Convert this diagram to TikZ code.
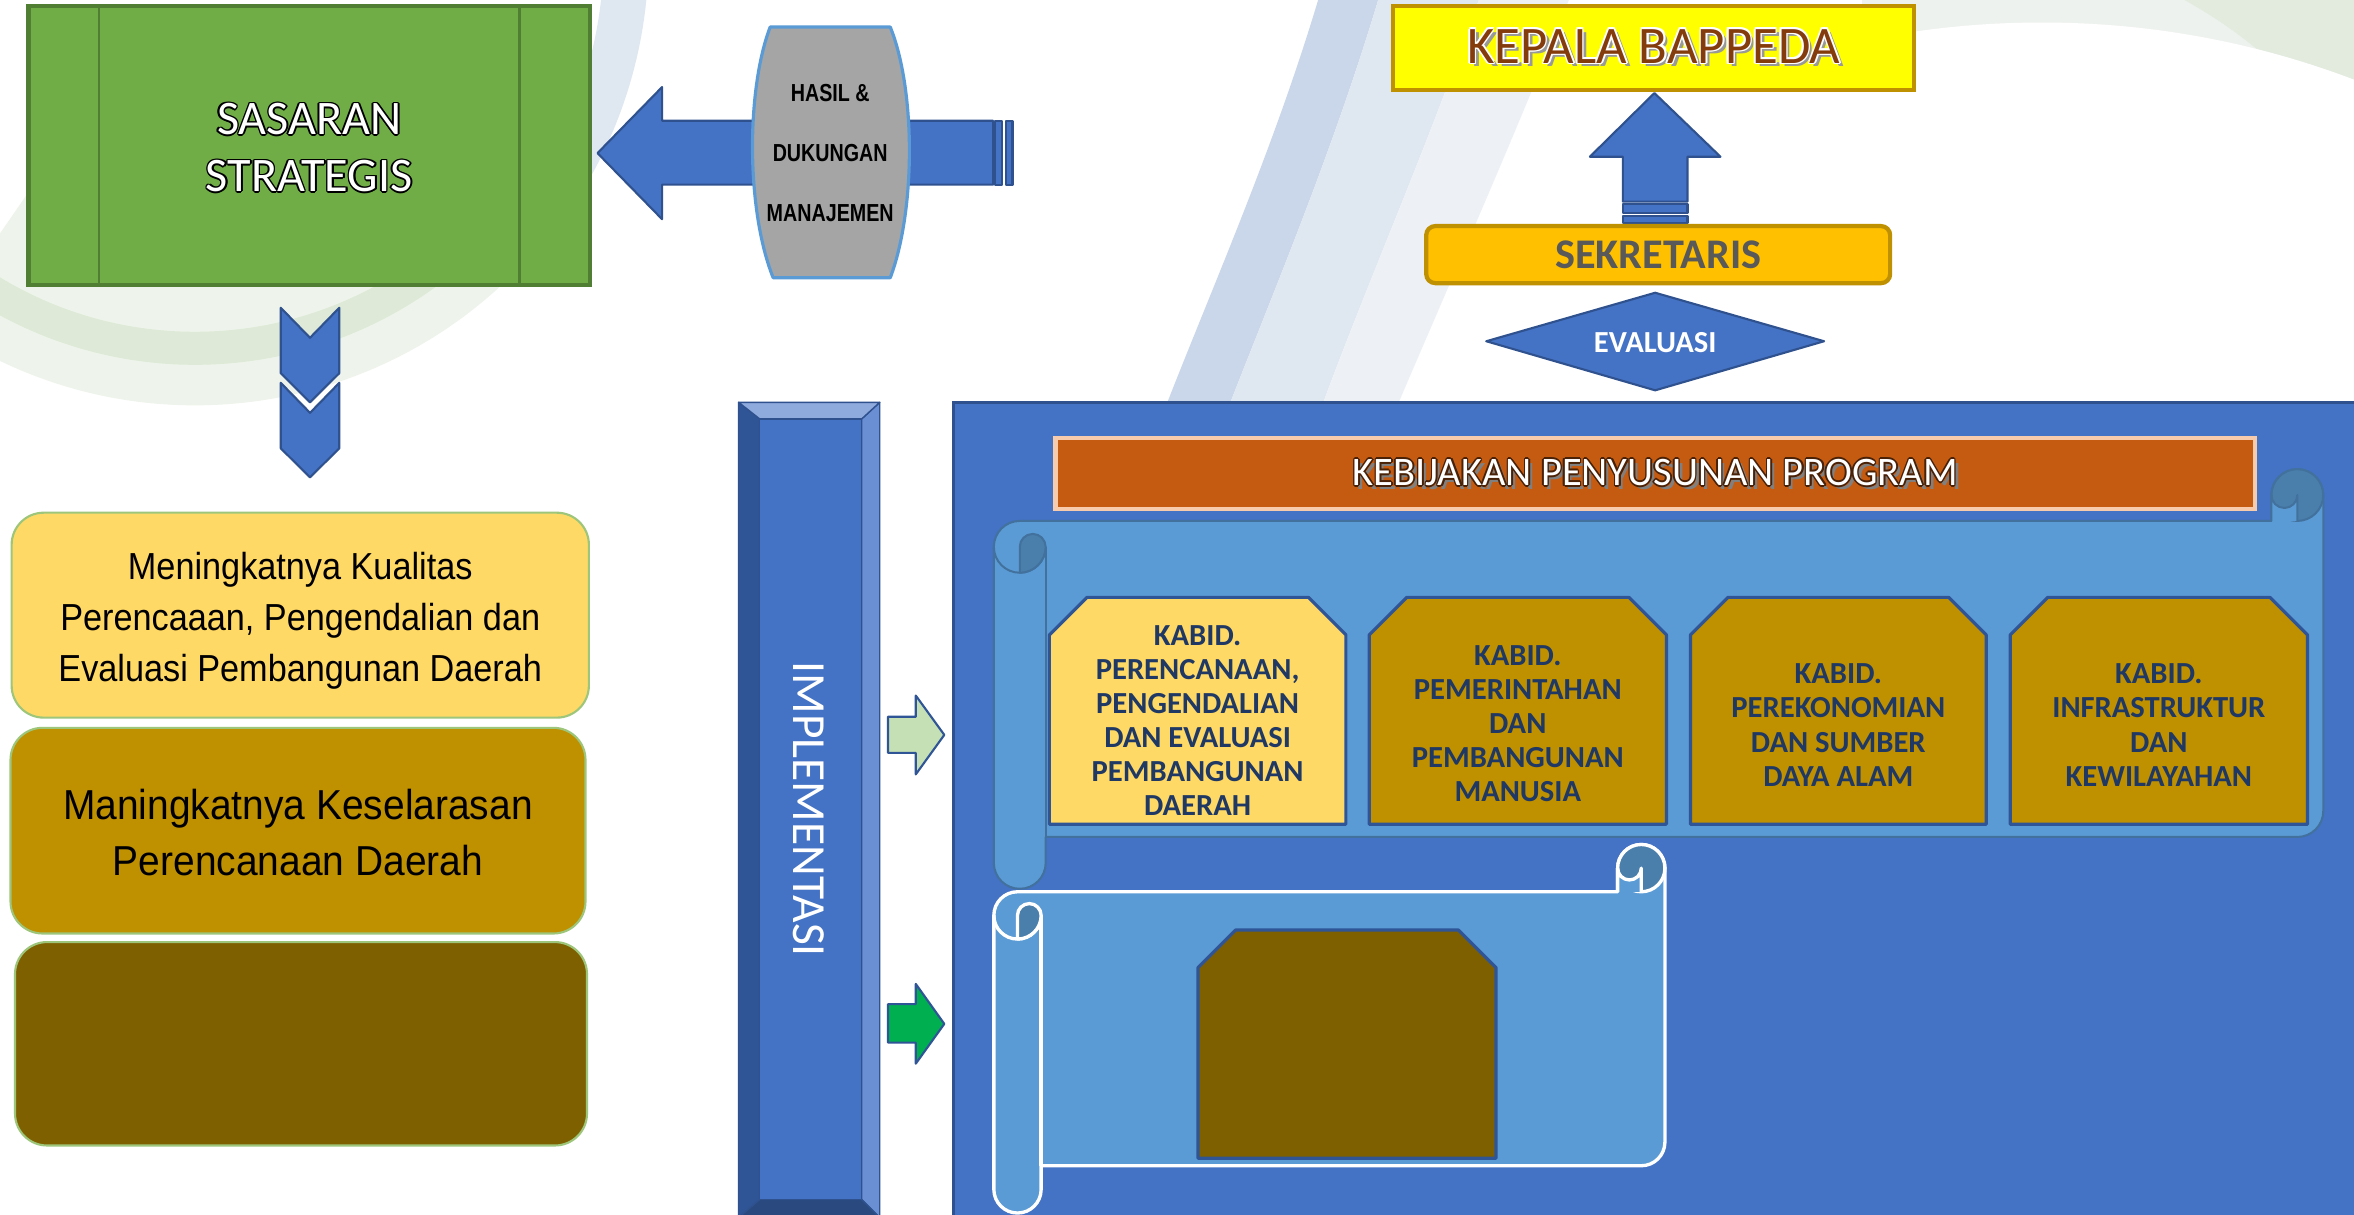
\documentclass[tikz,border=0pt]{standalone}
\usepackage{fontspec}
\setmainfont{Carlito}
\newfontfamily\boxA[FakeStretch=0.91]{Liberation Sans}
\newfontfamily\boxB[FakeStretch=0.93]{Liberation Sans}
\newfontfamily\hasilF[FakeStretch=0.8]{Liberation Sans}
\usetikzlibrary{shapes.geometric}

\definecolor{grn}{HTML}{70AD47}
\definecolor{grnd}{HTML}{507E32}
\definecolor{blu}{HTML}{4472C4}
\definecolor{blud}{HTML}{2F528F}
\definecolor{sheet}{HTML}{5B9BD5}
\definecolor{sheetd}{HTML}{41719C}
\definecolor{curl}{HTML}{4A7EAB}
\definecolor{ylw}{HTML}{FFD966}
\definecolor{gold}{HTML}{BF9000}
\definecolor{olive}{HTML}{7F6000}
\definecolor{navy}{HTML}{1F3864}
\definecolor{orng}{HTML}{C55A11}
\definecolor{peach}{HTML}{F8CBAD}
\definecolor{amber}{HTML}{FFC000}
\definecolor{brwn}{HTML}{843C0C}
\definecolor{gry}{HTML}{A5A5A5}
\definecolor{dgray}{HTML}{595959}
\definecolor{lgreen}{HTML}{C5E0B4}
\definecolor{vgreen}{HTML}{00B050}
\definecolor{yel}{HTML}{FFFF00}
\definecolor{bevtop}{HTML}{8FAADC}
\definecolor{bevleft}{HTML}{2F5597}
\definecolor{bevright}{HTML}{6A8FD3}
\definecolor{bevbot}{HTML}{29497F}
\definecolor{lbord}{HTML}{9DC67A}
\definecolor{swGa}{HTML}{EEF4EB}
\definecolor{swGb}{HTML}{DEEAD7}
\definecolor{swBa}{HTML}{CAD7EA}
\definecolor{swBb}{HTML}{DFE7F1}
\definecolor{swBc}{HTML}{EDF1F6}
\definecolor{swTa}{HTML}{EEF2EE}
\definecolor{swTb}{HTML}{E2EBDE}

\def\U{0.015cm}
\newlength\olw
\newcommand\outl[3]{{\setlength\olw{0.45pt}\setbox0=\hbox{#3}%
\rlap{\color{#1}\kern\olw\copy0}\rlap{\color{#1}\kern-\olw\copy0}%
\rlap{\color{#1}\raise\olw\copy0}\rlap{\color{#1}\lower\olw\copy0}%
\rlap{\color{#1}\kern.7\olw\raise.7\olw\copy0}\rlap{\color{#1}\kern-.7\olw\raise.7\olw\copy0}%
\rlap{\color{#1}\kern.7\olw\lower.7\olw\copy0}\rlap{\color{#1}\kern-.7\olw\lower.7\olw\copy0}%
{\color{#2}\copy0}}}
\newcommand\outls[4]{{\setlength\olw{0.45pt}\setbox0=\hbox{#4}%
\rlap{\color{#3}\kern1.1pt\lower1.1pt\copy0}%
\rlap{\color{#1}\kern\olw\copy0}\rlap{\color{#1}\kern-\olw\copy0}%
\rlap{\color{#1}\raise\olw\copy0}\rlap{\color{#1}\lower\olw\copy0}%
\rlap{\color{#1}\kern.7\olw\raise.7\olw\copy0}\rlap{\color{#1}\kern-.7\olw\raise.7\olw\copy0}%
\rlap{\color{#1}\kern.7\olw\lower.7\olw\copy0}\rlap{\color{#1}\kern-.7\olw\lower.7\olw\copy0}%
{\color{#2}\copy0}}}

\newcommand\card[5]{\filldraw[cardshape, fill=#5] (#1,#4) -- (#1,{#2+25}) -- ({#1+25},#2) -- ({#3-25},#2) -- (#3,{#2+25}) -- (#3,#4) -- cycle;}

\newcommand\hscroll[7]{%
\pgfmathsetmacro\sL{#1}\pgfmathsetmacro\sT{#2}\pgfmathsetmacro\sR{#3}%
\pgfmathsetmacro\sB{#4}\pgfmathsetmacro\sC{#5}%
\pgfmathsetmacro\sH{\sC/2}\pgfmathsetmacro\sQ{\sC/4}%
\pgfmathsetmacro\sYb{\sT+\sC}\pgfmathsetmacro\sYc{\sT+1.5*\sC}\pgfmathsetmacro\sYB{\sB-\sC}%
\begin{scope}[draw=#6, line width=#7, line join=round]
\filldraw[fill=sheet] ({\sL+\sH},\sYb) -- ({\sR-\sC},\sYb) -- ({\sR-\sC},{\sT+\sH}) arc[start angle=180,end angle=360,radius=\sH] -- (\sR,{\sYB-\sH}) arc[start angle=0,end angle=90,radius=\sH] -- ({\sL+\sC},\sYB) -- ({\sL+\sC},{\sB-\sH}) arc[start angle=0,end angle=180,radius=\sH] -- (\sL,\sYc) arc[start angle=180,end angle=270,radius=\sH] -- cycle;
\draw ({\sL+\sC},\sYc) -- ({\sL+\sC},\sYB);
\draw (\sL,\sYc) arc[start angle=180,end angle=0,radius=\sH];
\filldraw[fill=curl] ({\sL+\sH},{\sYc+\sH}) -- ({\sL+\sH},\sYc) arc[start angle=180,end angle=360,radius=\sQ] arc[start angle=0,end angle=90,radius=\sH] -- cycle;
\filldraw[fill=curl] ({\sR-\sH},{\sT+\sH}) circle[radius=\sH];
\fill[sheet] ({\sR-\sC},{\sT+\sH}) arc[start angle=180,end angle=0,radius=\sQ] -- ({\sR-\sH},\sYb) -- ({\sR-\sC},\sYb) -- cycle;
\draw ({\sR-\sC},\sYb) -- ({\sR-\sC},{\sT+\sH}) arc[start angle=180,end angle=0,radius=\sQ] -- ({\sR-\sH},\sYb);
\end{scope}}

\tikzset{
  arrowshape/.style={fill=blu, draw=blud, line width=0.6pt, line join=round},
  lbox/.style={rounded corners=0.32cm, line width=0.6pt, draw=lbord},
  cardtxt/.style={font=\bfseries\fontsize{8.7}{9.7}\selectfont, text=navy, align=center},
  cardshape/.style={draw=bevleft, line width=0.9pt, line join=round},
  bevel/.style={draw=blud, line width=0.4pt, line join=round},
}

\begin{document}
\begin{tikzpicture}[x=0.015cm,y=-0.015cm, every node/.style={inner sep=0pt, outer sep=0pt}]
\useasboundingbox (0,0) rectangle (1568,809);
\clip (0,0) rectangle (1568,809);
\fill[white] (0,0) rectangle (1568,809);

% ---------- background swooshes ----------
\draw[line width={110*\U}, swGa] (130,-30) ++(125:245) arc[start angle=125,end angle=40,radius=245];
\draw[line width={22*\U}, swGb] (130,-30) ++(125:262) arc[start angle=125,end angle=40,radius=262];
\draw[line width={30*\U}, swBb] (130,-30) ++(45:287) arc[start angle=45,end angle=-10,radius=287];
\fill[swBa] (878,0) .. controls (848,100) and (808,190) .. (776,272) -- (818,272) .. controls (850,190) and (888,100) .. (918,0) -- cycle;
\fill[swBb] (918,0) .. controls (888,100) and (850,190) .. (818,272) -- (880,272) .. controls (910,190) and (950,100) .. (985,0) -- cycle;
\fill[swBc] (985,0) .. controls (950,100) and (910,190) .. (880,272) -- (930,272) .. controls (965,190) and (1005,100) .. (1045,0) -- cycle;
\begin{scope}
\clip (1240,0) rectangle (1568,170);
\fill[swTa] (1240,0) rectangle (1568,170);
\fill[swTb] (1455,0) .. controls (1500,25) and (1540,60) .. (1568,110) -- (1568,0) -- cycle;
\fill[white] (1360,600) circle[radius=585];
\end{scope}

% ---------- SASARAN STRATEGIS ----------
\node[fill=grn, draw=grnd, line width=1.2pt, minimum width={374*\U}, minimum height={186*\U}] (sasaran) at (206,97) {};
\draw[grnd, line width=0.8pt] (66,4) -- (66,190) (346,4) -- (346,190);
\node[font=\fontsize{13.7}{16.2}\selectfont, align=center] (sasaranT) at (206,98.5) {\outl{black}{white}{SASARAN}\\\outl{black}{white}{STRATEGIS}};

% chevrons
\foreach \ty in {205,255} {
  \filldraw[arrowshape] (187,\ty) -- (206.5,{\ty+20}) -- (226,\ty) -- (226,{\ty+43.6}) -- (206.5,{\ty+63}) -- (187,{\ty+43.6}) -- cycle;
}

% left block arrow with stripes
\filldraw[arrowshape] (398,102) -- (441,58) -- (441,80.4) -- (661.5,80.4) -- (661.5,123) -- (441,123) -- (441,146) -- cycle;
\filldraw[arrowshape] (663,80.4) rectangle (667.7,123);
\filldraw[arrowshape] (670,80.4) rectangle (674.4,123);

% HASIL & DUKUNGAN MANAJEMEN
\filldraw[fill=gry, draw=sheet, line width=0.9pt, line join=round] (513,18) -- (593,18) .. controls (610,60) and (610,140) .. (593,185) -- (515,185) .. controls (497,140) and (497,60) .. (513,18) -- cycle;
\node[font=\hasilF\bfseries\fontsize{7}{17.1}\selectfont, align=center] (hasil) at (553,101.8) {HASIL \&\\DUKUNGAN\\MANAJEMEN};

% ---------- KEPALA / SEKRETARIS / EVALUASI ----------
\node[fill=yel, draw=gold, line width=1.2pt, minimum width={347*\U}, minimum height={56*\U}] (kepala) at (1101.5,32) {};
\node[font=\fontsize{15}{17}\selectfont] (kepalaT) at (1101.5,31.5) {\outls{white}{brwn}{gray!80}{KEPALA BAPPEDA}};

\filldraw[arrowshape] (1102,62) -- (1146,104.4) -- (1124,104.4) -- (1124,134.3) -- (1081,134.3) -- (1081,104.4) -- (1059,104.4) -- cycle;
\filldraw[arrowshape] (1081,135.9) rectangle (1124,142.1);
\filldraw[arrowshape] (1081,143.9) rectangle (1124,148.3);

\node[fill=amber, draw=gold, line width=1.2pt, rounded corners={6*\U}, minimum width={309*\U}, minimum height={38*\U}, font=\bfseries\fontsize{12}{14}\selectfont, text=dgray] (sekretaris) at (1104.5,169.6) {SEKRETARIS};

\filldraw[arrowshape] (990,227.3) -- (1102.5,195) -- (1215,227.3) -- (1102.5,260) -- cycle;
\node[font=\bfseries\fontsize{8.7}{10}\selectfont, text=white] (evaluasi) at (1102.5,228.5) {EVALUASI};

% ---------- big panel ----------
\filldraw[fill=blu, draw=blud, line width=0.8pt] (635,268) rectangle (1580,820);

\node[fill=orng, draw=peach, line width=1.2pt, minimum width={799*\U}, minimum height={47*\U}] (kebijakan) at (1102.5,315.5) {};
\node[font=\fontsize{11.5}{13}\selectfont] (kebijakanT) at (1102.5,315.5) {\outls{brwn!55!black}{white}{gray}{KEBIJAKAN PENYUSUNAN PROGRAM}};

% scrolls
\hscroll{662}{312.5}{1547.5}{592}{34.5}{sheetd}{0.57pt}
\hscroll{662}{562.5}{1109}{808}{31.5}{white}{0.95pt}

% cards
\card{699}{397.9}{896.5}{549}{ylw}
\card{912}{397.9}{1110}{549}{gold}
\card{1126}{397.9}{1323}{549}{gold}
\card{1339}{397.9}{1537}{549}{gold}
\card{798}{619.5}{996.5}{771.5}{olive}
\node[cardtxt] (kabid1) at (797.7,480) {KABID.\\PERENCANAAN,\\PENGENDALIAN\\DAN EVALUASI\\PEMBANGUNAN\\DAERAH};
\node[cardtxt] (kabid2) at (1011,482) {KABID.\\PEMERINTAHAN\\DAN\\PEMBANGUNAN\\MANUSIA};
\node[cardtxt] (kabid3) at (1224.5,483) {KABID.\\PEREKONOMIAN\\DAN SUMBER\\DAYA ALAM};
\node[cardtxt] (kabid4) at (1438,483) {KABID.\\INFRASTRUKTUR\\DAN\\KEWILAYAHAN};

% ---------- IMPLEMENTASI bar ----------
\filldraw[bevel, fill=bevleft] (492,268) -- (506,279) -- (506,799) -- (492,811) -- cycle;
\filldraw[bevel, fill=bevright] (586,268) -- (574,279) -- (574,799) -- (586,811) -- cycle;
\filldraw[bevel, fill=bevtop] (492,268) -- (586,268) -- (574,279) -- (506,279) -- cycle;
\filldraw[bevel, fill=bevbot] (492,811) -- (506,799) -- (574,799) -- (586,811) -- cycle;
\filldraw[bevel, fill=blu] (506,279) rectangle (574,799);
\node[rotate=-90, text=white, font=\fontsize{13.5}{15}\selectfont] (impl) at (538.5,539) {IMPLEMENTASI};

\filldraw[fill=lgreen, draw=bevleft, line width=0.6pt, line join=round] (591.5,477.4) -- (610,477.4) -- (610,463.3) -- (629,489.5) -- (610,515.8) -- (610,501.5) -- (591.5,501.5) -- cycle;
\filldraw[fill=vgreen, draw=bevleft, line width=0.6pt, line join=round] (591.5,668.8) -- (610,668.8) -- (610,655.4) -- (629,682) -- (610,708.5) -- (610,694.5) -- (591.5,694.5) -- cycle;

% ---------- left boxes ----------
\node[lbox, fill=ylw, minimum width={384.5*\U}, minimum height={136.5*\U}] (box1) at (200,409.75) {};
\node[font=\boxA\fontsize{10.7}{14.5}\selectfont, align=center] (box1T) at (200,413.7) {Meningkatnya Kualitas\\Perencaaan, Pengendalian dan\\Evaluasi Pembangunan Daerah};
\node[lbox, fill=gold, minimum width={383*\U}, minimum height={137*\U}] (box2) at (198.5,553.3) {};
\node[font=\boxB\fontsize{11.9}{15.8}\selectfont, align=center] (box2T) at (198.5,554.4) {Maningkatnya Keselarasan\\Perencanaan Daerah};
\node[lbox, fill=olive, minimum width={381*\U}, minimum height={135.5*\U}] (box3) at (200.5,695.25) {};
\end{tikzpicture}
\end{document}
